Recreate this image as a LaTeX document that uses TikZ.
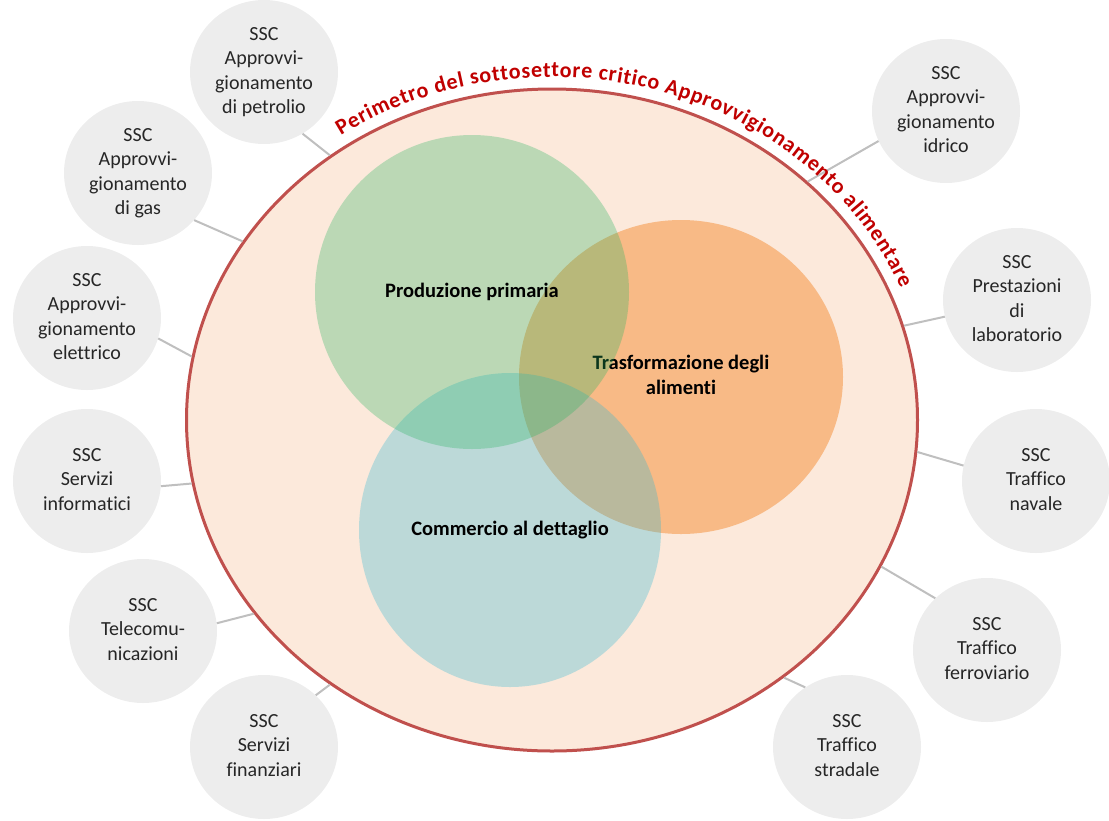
\documentclass[tikz,border=0pt]{standalone}
\usepackage{fontspec}
\setmainfont[Ligatures={NoCommon}]{Carlito}
\usetikzlibrary{shapes.geometric,decorations.text}

\definecolor{perimfill}{RGB}{252,233,219}
\definecolor{perimline}{RGB}{192,80,77}
\definecolor{perimtext}{RGB}{192,0,0}
\definecolor{sscfill}{RGB}{237,237,237}
\definecolor{ssctext}{RGB}{38,38,38}
\definecolor{connline}{RGB}{191,191,191}
\definecolor{prodgreen}{RGB}{39,180,96}
\definecolor{trasforange}{RGB}{248,186,134}
\definecolor{commblue}{RGB}{42,183,212}

\tikzset{
  ssc/.style={ellipse, fill=sscfill, text=ssctext, minimum width=148, minimum height=144,
    inner sep=0pt, font=\fontsize{20}{24.5}\selectfont},
  venn/.style={ellipse, inner sep=0pt, text opacity=1, font=\bfseries\fontsize{20.5}{25}\selectfont},
  conn/.style={draw=connline, line width=2pt}
}

\begin{document}
\begin{tikzpicture}[x=1pt,y=-1pt]
    \useasboundingbox (0,0) rectangle (1109,820);
    \node[ellipse, fill=perimfill, draw=perimline, line width=3pt, minimum width=731,
      minimum height=662] (perim) at (552,420) {};

    \node[ssc] (petr) at (264,72) {
      \begin{tabular}{@{}c@{}}
SSC\\ Approvvi-\\ gionamento\\ di petrolio
      \end{tabular}};
    \node[ssc] (gas) at (138,173) {
      \begin{tabular}{@{}c@{}}
SSC\\ Approvvi-\\ gionamento\\ di gas
      \end{tabular}};
    \node[ssc] (elet) at (87,318) {
      \begin{tabular}{@{}c@{}}
SSC\\ Approvvi-\\ gionamento\\ elettrico
      \end{tabular}};
    \node[ssc] (info) at (87,481) {
      \begin{tabular}{@{}c@{}}
SSC\\ Servizi\\ informatici
      \end{tabular}};
    \node[ssc] (tlc) at (143,631) {
      \begin{tabular}{@{}c@{}}
SSC\\ Telecomu-\\ nicazioni
      \end{tabular}};
    \node[ssc] (fin) at (264,747) {
      \begin{tabular}{@{}c@{}}
SSC\\ Servizi\\ finanziari
      \end{tabular}};
    \node[ssc] (idr) at (946,111) {
      \begin{tabular}{@{}c@{}}
SSC\\ Approvvi-\\ gionamento\\ idrico
      \end{tabular}};
    \node[ssc] (lab) at (1017,300) {
      \begin{tabular}{@{}c@{}}
SSC\\ Prestazioni\\ di\\ laboratorio
      \end{tabular}};
    \node[ssc] (nav) at (1036,481) {
      \begin{tabular}{@{}c@{}}
SSC\\ Traffico\\ navale
      \end{tabular}};
    \node[ssc] (ferr) at (987,650) {
      \begin{tabular}{@{}c@{}}
SSC\\ Traffico\\ ferroviario
      \end{tabular}};
    \node[ssc] (strad) at (847,747) {
      \begin{tabular}{@{}c@{}}
SSC\\ Traffico\\ stradale
      \end{tabular}};

    \draw[conn] (petr.-58) -- (perim.130);
    \draw[conn] (gas.-40) -- (perim.150);
    \draw[conn] (elet.-16) -- (perim.170);
    \draw[conn] (info.-4) -- (perim.190);
    \draw[conn] (tlc.6) -- (perim.213);
    \draw[conn] (fin.45) -- (perim.230);
    \draw[conn] (idr.204) -- (perim.43);
    \draw[conn] (lab.193) -- (perim.15);
    \draw[conn] (nav.168) -- (perim.-5);
    \draw[conn] (ferr.135) -- (perim.-24);
    \draw[conn] (strad.125) -- (perim.-48);

    % cerchi sovrapposti
    \node[venn, fill=trasforange, minimum width=324, minimum height=314] (trasf) at (681,377) {
      \begin{tabular}{c}
Trasformazione degli\\ alimenti
      \end{tabular}};
    \node[venn, fill=commblue, fill opacity=0.3, minimum width=302, minimum height=314] (comm) at (510,530)
      {Commercio al dettaglio};
    \node[venn, fill=prodgreen, fill opacity=0.3, minimum width=314, minimum height=314] (prod) at (472,292)
      {Produzione primaria};

    \path[decorate, decoration={text along path, text align={fit to path}, text color=perimtext,
      text={|\bfseries\fontsize{22}{26}\selectfont|Perimetro del sottosettore critico Approvvigionamento alimentare}}]
      ([shift={(124:377.5pt and 343pt)}]perim.center) arc[start angle=124, end angle=22.5, x radius=377.5pt, y radius=343pt];
  \end{tikzpicture}
\end{document}
